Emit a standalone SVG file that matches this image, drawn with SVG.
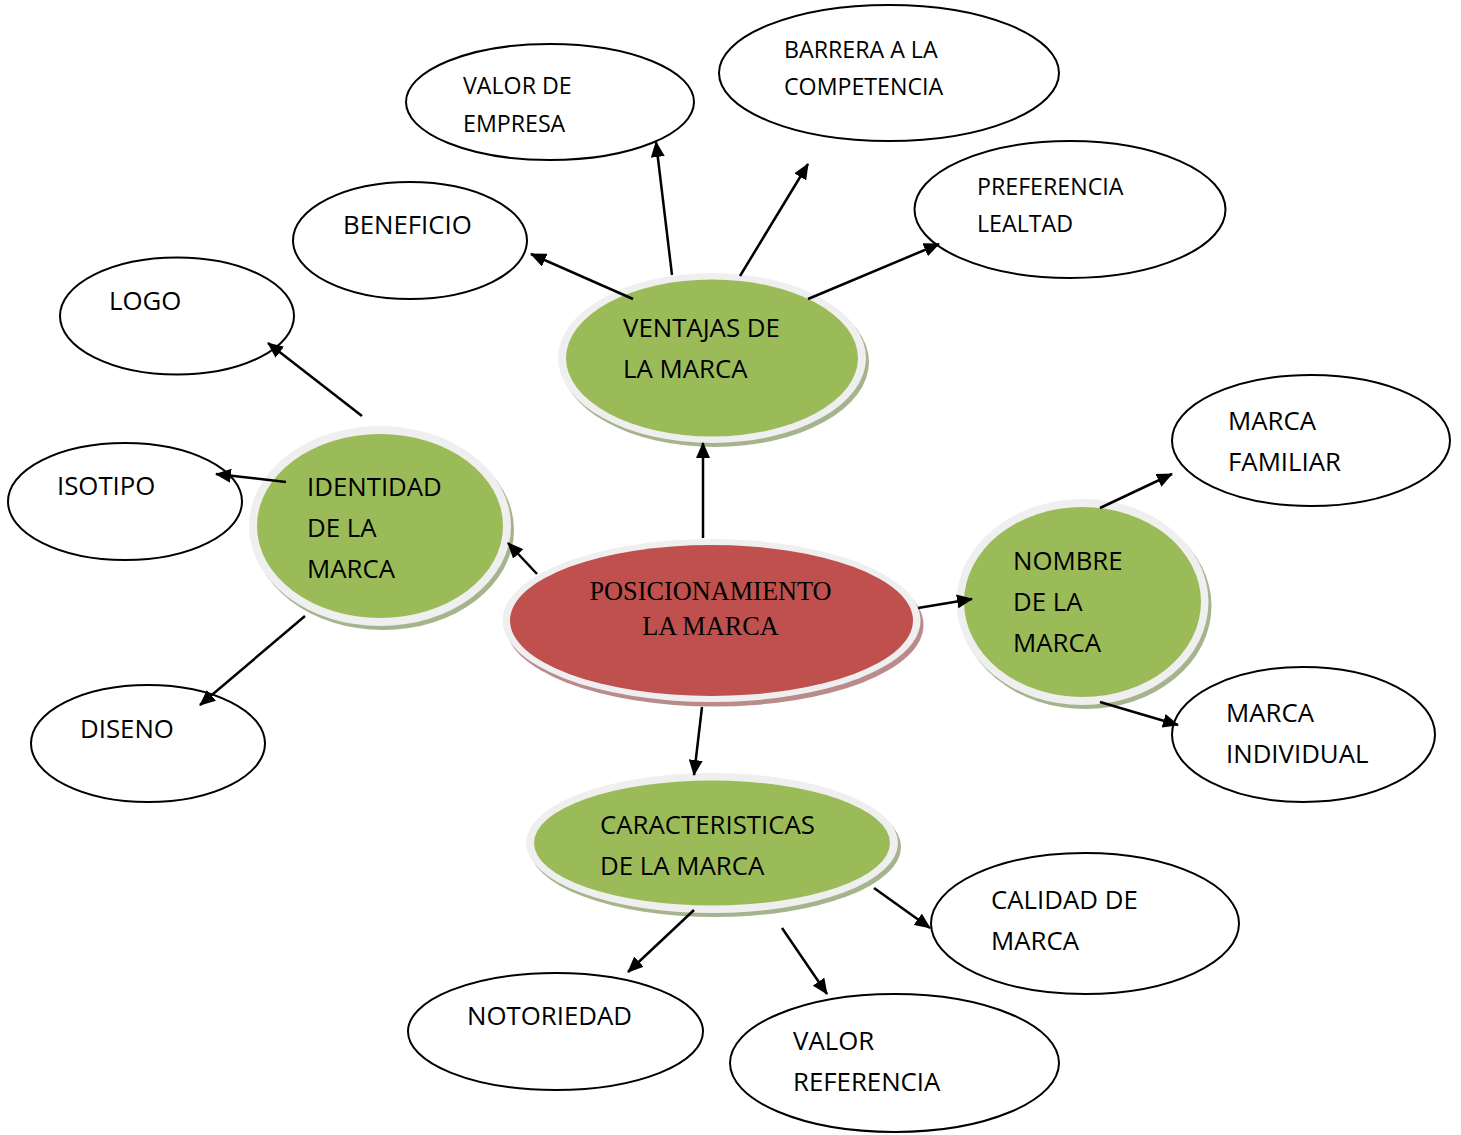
<svg xmlns="http://www.w3.org/2000/svg" width="1461" height="1135" viewBox="0 0 1461 1135">
<style>
.leaf{fill:#ffffff;stroke:#000000;stroke-width:2}
.t{font-family:"Open Sans","Liberation Sans",sans-serif;font-size:25.8px;fill:#000000}
.ts{font-family:"Open Sans","Liberation Sans",sans-serif;font-size:23.2px;fill:#000000}
.tc{font-family:"Liberation Serif","Times New Roman",serif;font-size:26.3px;fill:#000000;text-anchor:middle}
.gshadow{fill:#a6b48e}
.rshadow{fill:#b98b8a}
.ring{fill:#efefef}
.green{fill:#9bbb59}
.red{fill:#c0504d}
.conn line{stroke:#000000;stroke-width:2.5}
</style>
<defs>
<marker id="ah" markerWidth="6.4" markerHeight="5.6" refX="6" refY="2.8" orient="auto" markerUnits="strokeWidth">
<path d="M0,0 L6.4,2.8 L0,5.6 Z" fill="#000000"/>
</marker>
</defs>

<g id="valor-empresa"><ellipse class="leaf" cx="550" cy="102" rx="144" ry="58"/><text class="ts" x="463" y="94">VALOR DE</text><text class="ts" x="463" y="132">EMPRESA</text></g>
<g id="barrera"><ellipse class="leaf" cx="889" cy="73" rx="170" ry="68"/><text class="ts" x="784" y="58">BARRERA A LA</text><text class="ts" x="784" y="95">COMPETENCIA</text></g>
<g id="preferencia"><ellipse class="leaf" cx="1070" cy="209.5" rx="155.5" ry="68.5"/><text class="ts" x="977" y="195">PREFERENCIA</text><text class="ts" x="977" y="232">LEALTAD</text></g>
<g id="beneficio"><ellipse class="leaf" cx="410" cy="240.5" rx="117" ry="58.5"/><text class="t" x="343" y="234">BENEFICIO</text></g>
<g id="logo"><ellipse class="leaf" cx="177" cy="316" rx="117" ry="58.5"/><text class="t" x="109" y="310">LOGO</text></g>
<g id="isotipo"><ellipse class="leaf" cx="125" cy="501.5" rx="117" ry="58.5"/><text class="t" x="57" y="495">ISOTIPO</text></g>
<g id="diseno"><ellipse class="leaf" cx="148" cy="743.5" rx="117" ry="58.5"/><text class="t" x="80" y="738">DISENO</text></g>
<g id="marca-familiar"><ellipse class="leaf" cx="1311" cy="440.5" rx="139" ry="65.5"/><text class="t" x="1228" y="430">MARCA</text><text class="t" x="1228" y="471">FAMILIAR</text></g>
<g id="marca-individual"><ellipse class="leaf" cx="1303.5" cy="734.5" rx="131.5" ry="67.5"/><text class="t" x="1226" y="722">MARCA</text><text class="t" x="1226" y="763">INDIVIDUAL</text></g>
<g id="calidad"><ellipse class="leaf" cx="1085" cy="923.5" rx="154" ry="70.5"/><text class="t" x="991" y="909">CALIDAD DE</text><text class="t" x="991" y="950">MARCA</text></g>
<g id="notoriedad"><ellipse class="leaf" cx="555.5" cy="1031.5" rx="147.5" ry="58.5"/><text class="t" x="467" y="1025">NOTORIEDAD</text></g>
<g id="valor-referencia"><ellipse class="leaf" cx="894.5" cy="1063" rx="164.5" ry="69"/><text class="t" x="793" y="1050">VALOR</text><text class="t" x="793" y="1091">REFERENCIA</text></g>

<g id="ventajas">
<ellipse class="gshadow" cx="715" cy="362" rx="154" ry="85"/>
<ellipse class="ring" cx="712" cy="358" rx="154" ry="85"/>
<ellipse class="green" cx="712" cy="358" rx="146" ry="78.5"/>
<text class="t" x="623" y="337">VENTAJAS DE</text><text class="t" x="623" y="378">LA MARCA</text>
</g>
<g id="identidad">
<ellipse class="gshadow" cx="383" cy="530" rx="131" ry="100"/>
<ellipse class="ring" cx="380" cy="526" rx="131" ry="100"/>
<ellipse class="green" cx="380" cy="526" rx="123" ry="92"/>
<text class="t" x="307" y="496">IDENTIDAD</text><text class="t" x="307" y="537">DE LA</text><text class="t" x="307" y="578">MARCA</text>
</g>
<g id="posicionamiento">
<ellipse class="rshadow" cx="714.5" cy="625" rx="209" ry="81.5"/>
<ellipse class="ring" cx="711.5" cy="620.5" rx="209" ry="81.5"/>
<ellipse class="red" cx="711.5" cy="620.5" rx="201.5" ry="75.5"/>
<text class="tc" x="710.5" y="600">POSICIONAMIENTO</text><text class="tc" x="710.5" y="635">LA MARCA</text>
</g>
<g id="nombre">
<ellipse class="gshadow" cx="1085.5" cy="606" rx="126" ry="103"/>
<ellipse class="ring" cx="1082.5" cy="602" rx="126" ry="103"/>
<ellipse class="green" cx="1082.5" cy="602" rx="118.5" ry="95"/>
<text class="t" x="1013" y="570">NOMBRE</text><text class="t" x="1013" y="611">DE LA</text><text class="t" x="1013" y="652">MARCA</text>
</g>
<g id="caracteristicas">
<ellipse class="gshadow" cx="715" cy="847" rx="186" ry="70"/>
<ellipse class="ring" cx="712" cy="843" rx="186" ry="70"/>
<ellipse class="green" cx="712" cy="843" rx="178" ry="62.5"/>
<text class="t" x="600" y="834">CARACTERISTICAS</text><text class="t" x="600" y="875">DE LA MARCA</text>
</g>

<g id="connectors" class="conn">
<line x1="703" y1="538" x2="703" y2="443" marker-end="url(#ah)"/>
<line x1="537" y1="574" x2="508" y2="543" marker-end="url(#ah)"/>
<line x1="918" y1="608" x2="972" y2="599" marker-end="url(#ah)"/>
<line x1="702" y1="707" x2="694" y2="775" marker-end="url(#ah)"/>
<line x1="633" y1="299" x2="531" y2="254" marker-end="url(#ah)"/>
<line x1="672" y1="275" x2="656" y2="142" marker-end="url(#ah)"/>
<line x1="740" y1="276" x2="808" y2="164" marker-end="url(#ah)"/>
<line x1="808" y1="299" x2="939" y2="244" marker-end="url(#ah)"/>
<line x1="362" y1="416" x2="268" y2="343" marker-end="url(#ah)"/>
<line x1="286" y1="482" x2="216" y2="474" marker-end="url(#ah)"/>
<line x1="305" y1="616" x2="200" y2="705" marker-end="url(#ah)"/>
<line x1="1100" y1="508" x2="1172" y2="474" marker-end="url(#ah)"/>
<line x1="1100" y1="702" x2="1178" y2="725" marker-end="url(#ah)"/>
<line x1="874" y1="888" x2="930" y2="928" marker-end="url(#ah)"/>
<line x1="694" y1="910" x2="628" y2="972" marker-end="url(#ah)"/>
<line x1="782" y1="928" x2="827" y2="994" marker-end="url(#ah)"/>
</g>
</svg>
